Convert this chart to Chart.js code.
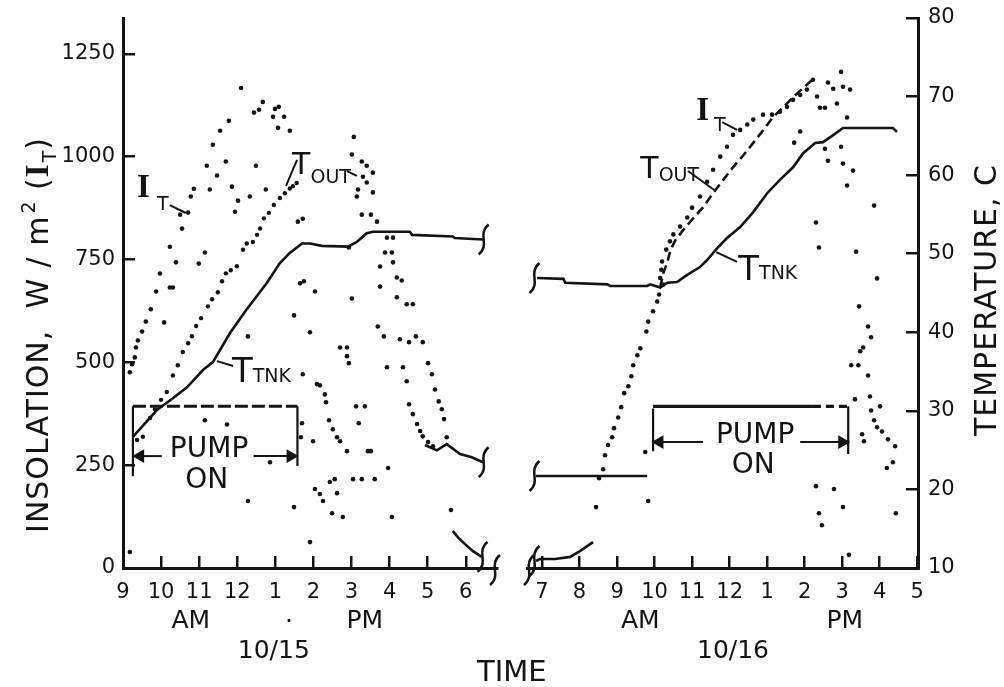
<!DOCTYPE html>
<html lang="en">
<head>
<meta charset="UTF-8">
<title>Insolation and temperatures, 10/15 - 10/16</title>
<script src="https://cdn.jsdelivr.net/npm/chart.js@4.4.0/dist/chart.umd.min.js"></script>
<style>
  body { margin: 0; background: #fff; }
  #wrap { position: relative; width: 1004px; height: 687px; }
  canvas { position: absolute; left: 0; top: 0; }
</style>
</head>
<body>
<div id="wrap">
  <canvas id="day1" width="1004" height="687"></canvas>
  <canvas id="day2" width="1004" height="687"></canvas>
</div>
<script>
// x = hour of day (24h clock), y = W/m2 (insolation) or deg C (temperatures)
const hours15 = [9, 10, 11, 12, 13, 14, 15, 16, 17, 18];
const hours16 = [7, 8, 9, 10, 11, 12, 13, 14, 15, 16, 17];
const insTicks = [0, 250, 500, 750, 1000, 1250];
const tempTicks = [10, 20, 30, 40, 50, 60, 70, 80];

// ---- 10/15 ----
const insol15 = [
  [12.10,1167],[12.44,1107],[12.57,1114],[12.67,1133],[12.94,1097],[13.09,1121],[12.99,1116],[13.23,1097],
  [13.07,1070],[13.38,1063],[11.78,1087],[11.55,1063],[11.36,1029],[11.20,978],[11.70,988],[12.49,978],
  [11.47,954],[10.86,922],[10.78,903],[11.28,920],[11.86,927],[12.75,920],[12.33,903],[12.02,893],[11.94,866],
  [10.50,859],[10.71,864],[10.55,825],[10.23,781],[10.39,743],[10.99,740],[11.15,767],[9.97,716],[9.87,672],
  [10.23,682],[10.31,682],[9.73,629],[9.60,599],[9.50,575],[9.39,553],[9.34,536],[9.31,512],[9.24,495],
  [9.18,476],[9.18,39],[10.08,597],[12.28,563],[13.49,614],[13.91,573],[13.72,849],[13.59,842],[13.65,692],
  [13.75,697],[14.04,672],[14.88,536],[15.01,655],[15.06,1048],[15.01,1005],[15.27,988],[15.40,978],
  [15.56,961],[15.30,951],[15.40,937],[15.56,913],[15.17,920],[15.14,903],[15.27,859],[15.51,859],[15.67,842],
  [14.93,779],[15.93,803],[16.09,803],[15.88,767],[16.06,767],[15.75,733],[16.09,743],[16.19,706],[16.32,699],
  [15.75,684],[16.19,658],[16.45,641],[16.61,641],[15.69,587],[15.85,563],[16.27,556],[16.51,549],[16.69,563],
  [16.87,549],[13.72,471],[14.09,447],[14.17,444],[14.30,422],[14.33,403],[14.41,359],[14.51,337],[14.62,318],
  [14.70,308],[14.88,284],[14.70,536],[14.88,515],[14.93,498],[15.12,393],[15.35,393],[15.19,352],[15.43,284],
  [15.51,284],[15.93,488],[16.35,488],[16.45,454],[16.51,398],[16.61,374],[16.72,350],[16.80,333],[16.87,320],
  [17.01,306],[17.14,296],[17.01,498],[17.11,471],[17.19,434],[17.29,405],[17.37,386],[17.43,362],[17.50,318],
  [15.96,243],[17.61,141],[16.06,124],[14.04,192],[14.17,180],[14.25,163],[14.43,209],[14.56,216],[14.62,182],
  [15.04,216],[15.27,216],[15.61,216],[14.49,133],[14.77,124],[13.91,63],[13.49,148],[12.28,163],[12.86,257],
  [11.15,359],[11.73,349],[13.70,352],[13.67,318],[13.99,308]
];
const tOut15 = [
  [9.37,26.3],[9.52,26.7],[9.71,29.1],[9.84,30.2],[10.00,31.4],[10.15,32.4],[10.31,34.5],[10.44,35.8],
  [10.57,37.5],[10.71,38.6],[10.81,39.5],[10.92,40.8],[11.05,41.8],[11.23,43.3],[11.34,44.2],[11.49,45.1],
  [11.60,46.5],[11.70,47.5],[11.83,47.9],[11.99,48.4],[12.15,50.5],[12.25,51.3],[12.41,51.5],[12.52,52.4],
  [12.60,53.2],[12.70,54.5],[12.83,55.2],[12.96,56.2],[13.12,57.1],[13.25,57.7],[13.38,58.3],[13.46,58.6],
  [13.56,59.0]
];
const tTank15 = [
  [9.26,26.7],[9.89,30.1],[10.31,31.6],[10.68,33.0],[11.10,35.2],[11.36,36.2],[11.81,39.9],[12.23,42.8],
  [12.78,46.3],[13.12,48.8],[13.38,50.1],[13.70,51.3],[13.91,51.3],[14.22,51.0],[14.91,50.9],[15.14,51.5],
  [15.40,52.6],[15.56,52.8],[16.53,52.8],[16.59,52.4],[17.66,52.2],[17.71,52.0],[18.45,51.8]
];
const evening15 = [[16.93,299],[17.24,286],[17.50,301],[17.85,277],[18.16,269],[18.45,257]];
const dusk15 = [[17.66,90],[17.79,75],[17.98,58],[18.19,41],[18.42,27]];
const pumpBar15 = [[9.26,393],[13.58,393]];
const pumpStart15 = [[9.26,393],[9.26,223]];
const pumpEnd15 = [[13.58,393],[13.58,248]];
const arrowIn15 = [[10.02,272],[9.45,272]];
const arrowOut15 = [[12.43,272],[13.40,272]];

// ---- 10/16 ----
const insol16 = [
  [8.44,148],[8.52,218],[8.63,240],[8.68,274],[8.76,299],[8.87,318],[8.92,340],[9.03,366],[9.11,391],
  [9.19,425],[9.30,442],[9.38,466],[9.43,493],[9.54,517],[9.62,534],[9.78,575],[9.83,599],[9.96,624],
  [10.07,648],[10.12,665],[10.15,705],[10.18,725],[10.23,689],[10.20,745],[10.31,774],[10.41,794],[10.50,811],
  [10.68,830],[10.87,852],[11.00,876],[11.21,903],[11.40,939],[11.56,968],[11.75,1000],[11.93,1024],
  [12.09,1053],[12.28,1065],[12.47,1078],[12.63,1090],[12.89,1102],[13.13,1102],[13.34,1109],[13.53,1121],
  [13.69,1138],[13.88,1150],[14.06,1163],[14.22,1187],[9.75,282],[9.83,163],
  [14.33,1146],[14.41,1119],[14.54,1119],[14.62,1180],[14.76,1165],[14.86,1129],[14.97,1206],[15.02,1170],
  [15.21,1163],[15.13,1095],[13.88,1061],[13.72,1034],[14.54,1019],[14.62,990],[14.97,1024],[15.02,983],
  [15.29,966],[15.13,930],[15.85,881],[14.30,840],[14.38,779],[15.37,769],[15.93,704],[15.45,636],[15.69,587],
  [15.77,561],[15.48,527],[15.56,536],[15.24,493],[15.43,493],[15.69,468],[15.74,417],[15.34,410],[16.01,393],
  [15.77,383],[15.85,359],[15.93,342],[16.06,332],[16.22,313],[16.41,296],[15.53,325],[15.58,308],[16.35,257],
  [16.19,243],[14.30,199],[14.78,192],[15.02,148],[14.38,133],[14.46,104],[15.18,32],[16.43,133]
];
const tOut16 = [
  [10.15,45.7],[10.23,47.5],[10.34,48.9],[10.42,50.4],[10.55,51.7],[10.76,53.0],[11.03,54.5],[11.29,55.9],
  [11.56,57.7],[11.83,59.4],[12.09,61.0],[12.36,62.5],[12.63,64.1],[12.89,65.7],[13.16,67.4],[13.42,68.6],
  [13.69,69.9],[13.96,71.1],[14.22,72.2]
];
const tTank16 = [
  [6.87,46.9],[7.57,46.8],[7.62,46.3],[8.74,46.1],[8.82,45.9],[9.80,45.9],[9.88,46.1],[10.15,45.7],
  [10.34,46.3],[10.60,46.4],[10.87,47.3],[11.21,48.3],[11.40,49.2],[11.67,50.7],[11.93,52.0],[12.28,53.4],
  [12.63,55.3],[13.00,57.7],[13.34,59.4],[13.69,61.0],[13.96,62.8],[14.28,64.1],[14.49,64.2],[14.76,65.1],
  [15.02,66.0],[15.29,66.0],[16.35,66.0],[16.46,65.5]
];
const ambient16 = [[6.84,21.7],[9.80,21.7]];
const dawn16 = [[6.84,17],[6.95,22],[7.35,22],[7.75,27],[8.01,41],[8.36,63]];
const pumpBar16 = [[9.96,393],[14.22,393]];
const pumpTail16 = [[14.22,393],[15.16,393]];
const pumpStart16 = [[9.96,388],[9.96,284]];
const pumpEnd16 = [[15.16,393],[15.16,277]];
const arrowIn16 = [[11.29,306],[10.13,306]];
const arrowOut16 = [[13.88,306],[15.00,306]];

const ink = '#141414';
const sans = '"DejaVu Sans", sans-serif';
const tickFont = { family: sans, size: 21 };

const P = a => a.map(([x, y]) => ({ x, y }));

function dots(data, axis, r) {
  return { data: P(data), yAxisID: axis, showLine: false, pointRadius: r, pointHoverRadius: r,
           pointBackgroundColor: ink, pointBorderWidth: 0 };
}
function trace(data, axis, w, dash) {
  return { data: P(data), yAxisID: axis, showLine: true, borderColor: ink, borderWidth: w,
           borderDash: dash || [], pointRadius: 0, pointHoverRadius: 0, tension: 0, fill: false };
}
function arrow(data, axis, rot) {
  const d = trace(data, axis, 2);
  d.pointStyle = 'triangle';
  d.pointRotation = rot;
  d.pointRadius = c => (c.dataIndex === data.length - 1 ? 6 : 0);
  d.pointBackgroundColor = ink;
  d.pointBorderColor = ink;
  return d;
}

function xAxis(min, max, hrs) {
  return {
    type: 'linear', position: 'bottom', min, max,
    afterFit: s => { s.height = 119; s.paddingLeft = 0; s.paddingRight = 0; },
    afterBuildTicks: s => { s.ticks = hrs.map(v => ({ value: v })); },
    border: { color: ink, width: 3 },
    grid: { drawOnChartArea: false, color: ink, lineWidth: 2.5, tickLength: -12 },
    ticks: { color: ink, font: tickFont, padding: 24, maxRotation: 0, autoSkip: false,
             callback: v => String(v % 12 || 12) }
  };
}
function yAxis(pos, min, max, list, width, pad) {
  return {
    type: 'linear', position: pos, min, max,
    afterFit: s => { s.width = width; s.paddingTop = 0; s.paddingBottom = 0; },
    afterBuildTicks: s => { s.ticks = list.map(v => ({ value: v })); },
    border: { color: ink, width: 3 },
    grid: { drawOnChartArea: false, color: ink, lineWidth: 2.5, tickLength: -12 },
    ticks: { color: ink, font: tickFont, padding: pad, autoSkip: false, callback: v => String(v) }
  };
}

// draws a row of text pieces (sub/superscripts) starting at x, or centred on x
function run(ctx, parts, x, y, centre) {
  let w = 0;
  parts.forEach(p => { ctx.font = p.f; w += ctx.measureText(p.s).width + (p.dx || 0); });
  let cx = centre ? x - w / 2 : x;
  ctx.textAlign = 'left';
  ctx.textBaseline = 'alphabetic';
  parts.forEach(p => {
    ctx.font = p.f;
    cx += p.dx || 0;
    ctx.fillText(p.s, cx, y + (p.dy || 0));
    cx += ctx.measureText(p.s).width;
  });
}
function seg(ctx, x1, y1, x2, y2) {
  ctx.beginPath(); ctx.moveTo(x1, y1); ctx.lineTo(x2, y2); ctx.stroke();
}
function curl(ctx, x, y) {
  ctx.beginPath();
  ctx.moveTo(x - 5, y + 15);
  ctx.bezierCurveTo(x + 7, y + 5, x - 7, y - 5, x + 5, y - 15);
  ctx.stroke();
}
const big = s => ({ s, f: '30px ' + sans });
const bigT = { s: 'T', f: '34px ' + sans };
const small = (s, dy, dx) => ({ s, f: '19px ' + sans, dy, dx });
const serifI = { s: 'I', f: 'bold 33px "Liberation Serif", serif' };

function notes(id, draw) {
  return {
    id,
    afterDatasetsDraw(chart) {
      const ctx = chart.ctx;
      const X = h => chart.scales.x.getPixelForValue(h);
      const I = v => chart.scales.ins.getPixelForValue(v);
      const T = v => chart.scales.temp.getPixelForValue(v);
      ctx.save();
      ctx.fillStyle = ink;
      ctx.strokeStyle = ink;
      ctx.lineWidth = 2;
      draw(ctx, X, I, T, chart.chartArea);
      ctx.restore();
    }
  };
}

const notes15 = notes('notes15', (ctx, X, I, T, a) => {
  run(ctx, [serifI, small('T', 13, 7)], X(9.37), I(902));
  seg(ctx, X(10.23), I(882), X(10.65), I(863));
  run(ctx, [big('T'), small('OUT', 9)], X(13.44), I(958));
  seg(ctx, X(13.57), I(992), X(13.28), I(929));
  seg(ctx, X(14.88), I(965), X(15.14), I(953));
  run(ctx, [bigT, small('TNK', 0)], X(11.86), I(452));
  seg(ctx, X(11.47), I(503), X(11.89), I(491));
  run(ctx, [{ s: 'PUMP', f: '28px ' + sans }], X(11.26), I(270), true);
  run(ctx, [{ s: 'ON', f: '28px ' + sans }], X(11.20), I(195), true);
  ctx.lineWidth = 2.5;
  curl(ctx, X(18.47), T(51.8));
  curl(ctx, X(18.47), I(257));
  curl(ctx, X(18.44), I(27));
  curl(ctx, X(18.82) - 2, a.bottom + 2);
  const lab = '25px ' + sans;
  run(ctx, [{ s: 'AM', f: lab }], X(10.78), a.bottom + 60, true);
  run(ctx, [{ s: 'PM', f: lab }], X(15.35), a.bottom + 60, true);
  run(ctx, [{ s: '.', f: lab }], X(13.36), a.bottom + 54, true);
  run(ctx, [{ s: '10/15', f: lab }], X(12.96), a.bottom + 90, true);
  run(ctx, [{ s: 'TIME', f: '29px ' + sans }], X(19.21), a.bottom + 113, true);
  ctx.save();
  ctx.translate(a.left - 86, (a.top + a.bottom) / 2 + 42);
  ctx.rotate(-Math.PI / 2);
  ctx.letterSpacing = '1px';
  run(ctx, [big('INSOLATION,  W / m'), small('2', -13, 2), big(' ('), serifI, small('T', 8, 1), big(')')], 0, 11, true);
  ctx.restore();
});

const notes16 = notes('notes16', (ctx, X, I, T, a) => {
  run(ctx, [serifI, small('T', 11, 5)], X(11.11), I(1089));
  seg(ctx, X(11.80), I(1084), X(12.20), I(1065));
  run(ctx, [big('T'), small('OUT', 3)], X(9.62), I(948));
  seg(ctx, X(10.89), I(965), X(11.59), I(919));
  run(ctx, [bigT, small('TNK', -1)], X(12.23), I(700));
  seg(ctx, X(11.64), I(768), X(12.20), I(744));
  run(ctx, [{ s: 'PUMP', f: '28px ' + sans }], X(12.68), I(304), true);
  run(ctx, [{ s: 'ON', f: '28px ' + sans }], X(12.63), I(231), true);
  ctx.lineWidth = 2.5;
  curl(ctx, X(6.80), T(46.9));
  curl(ctx, X(6.80), T(21.7));
  curl(ctx, X(6.80), I(17));
  curl(ctx, X(6.60) + 2, a.bottom + 2);
  const lab = '25px ' + sans;
  run(ctx, [{ s: 'AM', f: lab }], X(9.62), a.bottom + 60, true);
  run(ctx, [{ s: 'PM', f: lab }], X(15.07), a.bottom + 60, true);
  run(ctx, [{ s: '10/16', f: lab }], X(12.09), a.bottom + 90, true);
  ctx.save();
  ctx.translate(a.right + 67, 300);
  ctx.rotate(-Math.PI / 2);
  ctx.letterSpacing = '1px';
  run(ctx, [big('TEMPERATURE, C')], 0, 11, true);
  ctx.restore();
});

const base = {
  responsive: false,
  animation: false,
  events: [],
  plugins: { legend: { display: false }, tooltip: { enabled: false } }
};

new Chart(document.getElementById('day1'), {
  type: 'scatter',
  data: {
    datasets: [
      dots(insol15, 'ins', 2.3),
      dots(tOut15, 'temp', 2.2),
      trace(tTank15, 'temp', 2.6),
      trace(evening15, 'ins', 2.6),
      trace(dusk15, 'ins', 2.6),
      trace(pumpBar15, 'ins', 3, [13, 4]),
      trace(pumpStart15, 'ins', 2.2),
      trace(pumpEnd15, 'ins', 2.2),
      arrow(arrowIn15, 'ins', -90),
      arrow(arrowOut15, 'ins', 90)
    ]
  },
  options: Object.assign({}, base, {
    layout: { padding: { left: 0, right: 507, top: 18, bottom: 0 } },
    scales: {
      x: xAxis(9, 18.82, hours15),
      ins: yAxis('left', 0, 1337, insTicks, 123, 20),
      temp: { display: false, min: 10, max: 80 }
    }
  }),
  plugins: [notes15]
});

new Chart(document.getElementById('day2'), {
  type: 'scatter',
  data: {
    datasets: [
      dots(insol16, 'ins', 2.3),
      trace(tOut16, 'temp', 2.6, [9, 5]),
      trace(tTank16, 'temp', 2.6),
      trace(ambient16, 'temp', 2.6),
      trace(dawn16, 'ins', 2.6),
      trace(pumpBar16, 'ins', 3.2),
      trace(pumpTail16, 'ins', 3.2, [8, 5]),
      trace(pumpStart16, 'ins', 2.2),
      trace(pumpEnd16, 'ins', 2.2),
      arrow(arrowIn16, 'ins', -90),
      arrow(arrowOut16, 'ins', 90)
    ]
  },
  options: Object.assign({}, base, {
    layout: { padding: { left: 527, right: 0, top: 18, bottom: 0 } },
    scales: {
      x: xAxis(6.6, 17.02, hours16),
      ins: { display: false, min: 0, max: 1337 },
      temp: yAxis('right', 10, 80, tempTicks, 86, 22)
    }
  }),
  plugins: [notes16]
});
</script>
</body>
</html>
